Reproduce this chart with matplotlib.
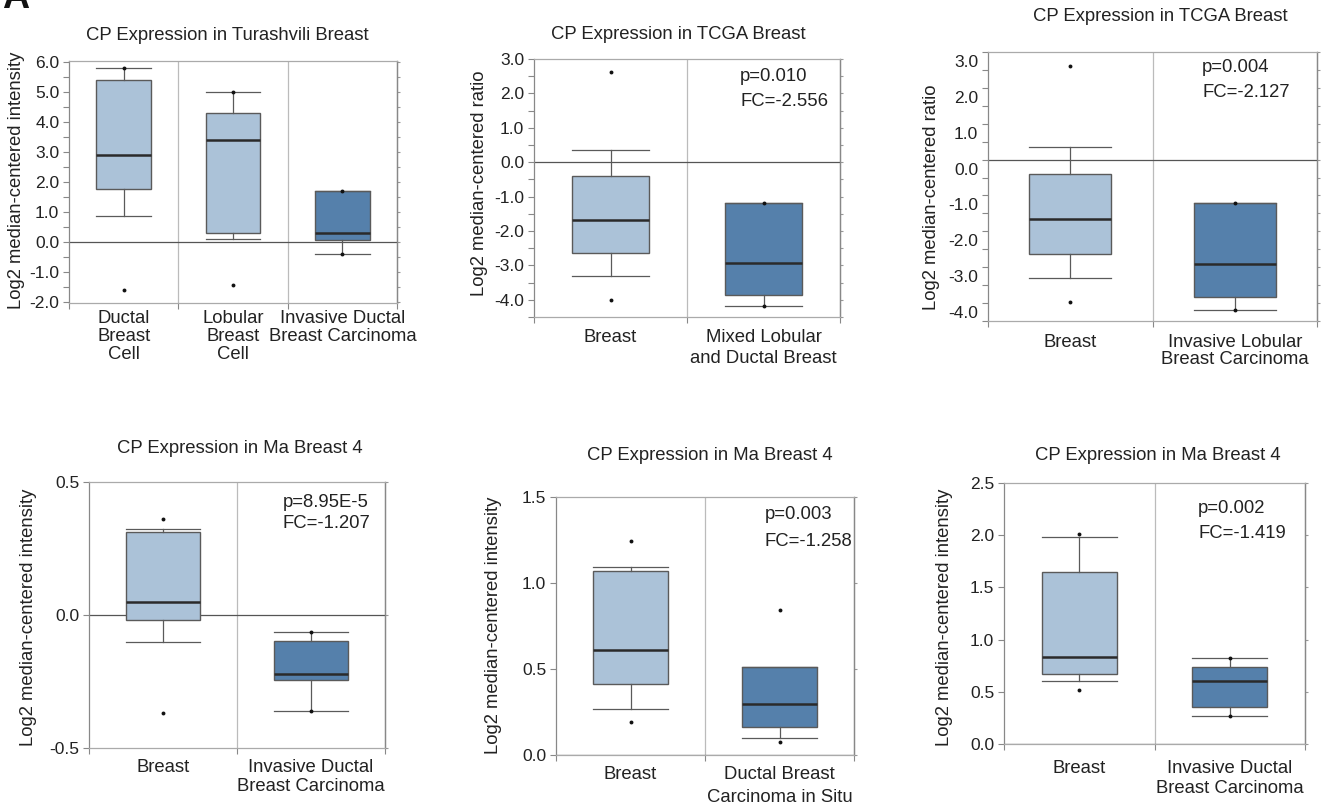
import matplotlib
matplotlib.use('Agg')
import matplotlib.pyplot as plt
import matplotlib.transforms as mtransforms
from matplotlib.ticker import FormatStrFormatter, MultipleLocator, NullFormatter
import numpy as np

################################
# Oncomine style box plots of CP expression (6 panels)
# Data: box statistics
# panel 1 - Turashvili Breast
p1_cats = ['Ductal\nBreast\nCell', 'Lobular\nBreast\nCell', 'Invasive Ductal\nBreast Carcinoma']
p1_q1 = [1.75, 0.27, 0.04]
p1_med = [2.90, 3.39, 0.27]
p1_q3 = [5.37, 4.27, 1.68]
p1_wlo = [0.85, 0.07, -0.40]
p1_whi = [5.79, 5.00, 1.68]
p1_min = [-1.63, -1.46, -0.40]
p1_max = [5.79, 5.00, 1.68]

# panel 2 - TCGA Breast (mixed lobular/ductal)
p2_cats = ['Breast', 'Mixed Lobular\nand Ductal Breast']
p2_q1 = [-2.64, -3.86]
p2_med = [-1.68, -2.92]
p2_q3 = [-0.40, -1.19]
p2_wlo = [-3.32, -4.19]
p2_whi = [0.35, -1.19]
p2_min = [-4.00, -4.19]
p2_max = [2.63, -1.19]

# panel 3 - TCGA Breast (invasive lobular)
p3_cats = ['Breast', 'Invasive Lobular\nBreast Carcinoma']
p3_q1 = [-2.63, -3.84]
p3_med = [-1.67, -2.92]
p3_q3 = [-0.40, -1.21]
p3_wlo = [-3.30, -4.18]
p3_whi = [0.36, -1.21]
p3_min = [-3.97, -4.18]
p3_max = [2.61, -1.21]

# panel 4 - Ma Breast 4 (IDC)
p4_cats = ['Breast', 'Invasive Ductal\nBreast Carcinoma']
p4_q1 = [-0.019, -0.245]
p4_med = [0.050, -0.221]
p4_q3 = [0.311, -0.097]
p4_wlo = [-0.103, -0.362]
p4_whi = [0.322, -0.065]
p4_min = [-0.370, -0.362]
p4_max = [0.362, -0.065]

# panel 5 - Ma Breast 4 (DCIS)
p5_cats = ['Breast', 'Ductal Breast\nCarcinoma in Situ']
p5_q1 = [0.414, 0.161]
p5_med = [0.608, 0.294]
p5_q3 = [1.070, 0.509]
p5_wlo = [0.269, 0.097]
p5_whi = [1.093, 0.509]
p5_min = [0.194, 0.077]
p5_max = [1.243, 0.842]

# panel 6 - Ma Breast 4 (IDC)
p6_cats = ['Breast', 'Invasive Ductal\nBreast Carcinoma']
p6_q1 = [0.667, 0.358]
p6_med = [0.830, 0.607]
p6_q3 = [1.651, 0.741]
p6_wlo = [0.607, 0.265]
p6_whi = [1.980, 0.824]
p6_min = [0.520, 0.265]
p6_max = [2.015, 0.824]

p_values = ['', 'p=0.010', 'p=0.004', 'p=8.95E-5', 'p=0.003', 'p=0.002']
fold_changes = ['', 'FC=-2.556', 'FC=-2.127', 'FC=-1.207', 'FC=-1.258', 'FC=-1.419']

################################
plt.rcParams.update({'font.family': ['Liberation Sans', 'DejaVu Sans'],
                     'axes.unicode_minus': False,
                     'text.color': '#222222',
                     'xtick.color': '#888888',
                     'ytick.color': '#888888',
                     'xtick.labelcolor': '#222222',
                     'ytick.labelcolor': '#222222'})

W, H = 1325, 806
LIGHT = '#abc2d8'
DARK = '#5580ab'
FS = 13.3

fig = plt.figure(figsize=(W / 100, H / 100), dpi=100)


def fx(x):
    return x / W


def fy(y):
    return 1 - y / H


# layout of every panel in pixels: axes box, title, ylabel, stats text
panels = [
    dict(data=(p1_cats, p1_q1, p1_med, p1_q3, p1_wlo, p1_whi, p1_min, p1_max),
         colors=[LIGHT, LIGHT, DARK], box=(69, 61, 397, 303), ylim=(-2.05, 6.02),
         major=1.0, minor=0.5, title='CP Expression in Turashvili Breast', tpos=(227, 40),
         ylabel='Log2 median-centered intensity', ypos=(17, 180), xpad=5.3, ls=1.05),
    dict(data=(p2_cats, p2_q1, p2_med, p2_q3, p2_wlo, p2_whi, p2_min, p2_max),
         colors=[LIGHT, DARK], box=(534, 59, 840, 317), ylim=(-4.5, 3.0),
         major=1.0, minor=0.5, title='CP Expression in TCGA Breast', tpos=(678, 39),
         ylabel='Log2 median-centered ratio', ypos=(480, 183), xpad=8.7, ls=1.3,
         spos=(740, 81, 106)),
    dict(data=(p3_cats, p3_q1, p3_med, p3_q3, p3_wlo, p3_whi, p3_min, p3_max),
         colors=[LIGHT, DARK], box=(988, 52, 1317, 321), ylim=(-4.5, 3.0),
         major=1.0, minor=0.5, title='CP Expression in TCGA Breast', tpos=(1160, 21),
         ylabel='Log2 median-centered ratio', ypos=(932, 197), xpad=9.2, ls=1.05,
         spos=(1202, 72, 97), yshift=9),
    dict(data=(p4_cats, p4_q1, p4_med, p4_q3, p4_wlo, p4_whi, p4_min, p4_max),
         colors=[LIGHT, DARK], box=(89, 482, 385, 748), ylim=(-0.5, 0.5),
         major=0.5, minor=None, title='CP Expression in Ma Breast 4', tpos=(240, 453),
         ylabel='Log2 median-centered intensity', ypos=(29, 617), xpad=8.2, ls=1.12,
         spos=(283, 507, 528)),
    dict(data=(p5_cats, p5_q1, p5_med, p5_q3, p5_wlo, p5_whi, p5_min, p5_max),
         colors=[LIGHT, DARK], box=(556, 497, 854, 755), ylim=(0.0, 1.5),
         major=0.5, minor=None, title='CP Expression in Ma Breast 4', tpos=(710, 460),
         ylabel='Log2 median-centered intensity', ypos=(494, 625), xpad=8.2, ls=1.42,
         spos=(765, 519, 546)),
    dict(data=(p6_cats, p6_q1, p6_med, p6_q3, p6_wlo, p6_whi, p6_min, p6_max),
         colors=[LIGHT, DARK], box=(1004, 483, 1305, 744), ylim=(0.0, 2.5),
         major=0.5, minor=None, title='CP Expression in Ma Breast 4', tpos=(1158, 460),
         ylabel='Log2 median-centered intensity', ypos=(945, 617), xpad=11.5, ls=1.25,
         spos=(1198, 513, 538)),
]

for k, p in enumerate(panels):
    cats, q1, med, q3, wlo, whi, mn, mx = p['data']
    l, t, r, b = p['box']
    ax = fig.add_axes([fx(l), fy(b), (r - l) / W, (b - t) / H])
    n = len(cats)
    stats = [dict(q1=q1[i], med=med[i], q3=q3[i], whislo=wlo[i], whishi=whi[i],
                  fliers=np.array([mn[i], mx[i]]), label='') for i in range(n)]
    bp = ax.bxp(stats, positions=np.arange(n), widths=0.5, capwidths=0.5,
                patch_artist=True, showfliers=True,
                boxprops=dict(edgecolor='#5a5a5a', linewidth=1.0),
                medianprops=dict(color='#2a2a2a', linewidth=1.8),
                whiskerprops=dict(color='#5a5a5a', linewidth=0.9),
                capprops=dict(color='#5a5a5a', linewidth=0.9),
                flierprops=dict(marker='o', markersize=2.8, markerfacecolor='#111111',
                                markeredgewidth=0))
    for patch, c in zip(bp['boxes'], p['colors']):
        patch.set_facecolor(c)
        patch.set_zorder(3)
    for key in ('medians', 'whiskers', 'caps', 'fliers'):
        for ln in bp[key]:
            ln.set_zorder(4)

    # dividers between groups and the zero line
    for i in range(1, n):
        ax.axvline(i - 0.5, color='#bbbbbb', linewidth=0.9, zorder=1)
    ax.axhline(0, color='#555555', linewidth=0.9, zorder=2)

    ax.set_xlim(-0.5, n - 0.5)
    ax.set_ylim(*p['ylim'])
    ax.set_xticks(np.arange(n + 1) - 0.5)
    ax.set_xticklabels([])
    ax.set_xticks(np.arange(n), labels=cats, minor=True)
    ax.tick_params(axis='x', which='major', direction='out', length=4, width=0.8)
    ax.tick_params(axis='x', which='minor', length=0, pad=p['xpad'], labelsize=FS)
    for lab in ax.get_xticklabels(minor=True):
        lab.set_linespacing(p['ls'])

    ax.yaxis.set_major_locator(MultipleLocator(p['major']))
    if p['minor']:
        ax.yaxis.set_minor_locator(MultipleLocator(p['minor']))
    ax.yaxis.set_major_formatter(FormatStrFormatter('%.1f'))
    ax.tick_params(axis='y', which='both', direction='out', length=4, width=0.8,
                   labelsize=12.5, pad=3)
    if p.get('yshift'):
        off = mtransforms.ScaledTranslation(0, -p['yshift'] / 100, fig.dpi_scale_trans)
        for lab in ax.get_yticklabels():
            lab.set_transform(lab.get_transform() + off)

    # tiny ticks on the right frame
    sec = ax.secondary_yaxis('right')
    sec.yaxis.set_major_locator(MultipleLocator(p['minor'] or p['major']))
    sec.yaxis.set_major_formatter(NullFormatter())
    sec.tick_params(axis='y', which='both', direction='out', length=2, width=0.8, color='#999999')
    sec.spines['right'].set_color('#888888')
    sec.spines['right'].set_linewidth(0.9)

    for side, c in (('left', '#888888'), ('right', '#888888'), ('top', '#aaaaaa'), ('bottom', '#aaaaaa')):
        ax.spines[side].set_color(c)
        ax.spines[side].set_linewidth(0.9)

    # texts
    fig.text(fx(p['tpos'][0]), fy(p['tpos'][1]), p['title'], ha='center', va='baseline', fontsize=FS)
    fig.text(fx(p['ypos'][0]), fy(p['ypos'][1]), p['ylabel'], rotation=90,
             ha='center', va='center', fontsize=FS)
    if 'spos' in p:
        sx, sy1, sy2 = p['spos']
        fig.text(fx(sx), fy(sy1), p_values[k], ha='left', va='baseline', fontsize=FS)
        fig.text(fx(sx), fy(sy2), fold_changes[k], ha='left', va='baseline', fontsize=FS)

# panel letter, cut at the top edge like the source figure
fig.text(fx(2), fy(8), 'A', ha='left', va='baseline', fontsize=27, fontweight='bold', color='#111111')

plt.savefig('out.png', dpi=100)
